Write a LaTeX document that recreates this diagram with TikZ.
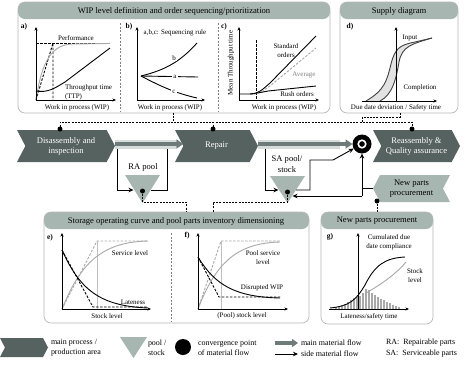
\documentclass[tikz,border=0pt]{standalone}
\usepackage{fontspec}
\setmainfont{Liberation Serif}
\usetikzlibrary{shapes.symbols,arrows.meta}
\definecolor{hdr}{HTML}{A8B6B2}
\definecolor{chev}{HTML}{56625F}
\definecolor{boxln}{HTML}{B8B8B8}
\definecolor{cgray}{HTML}{A8A8A8}
\definecolor{flowdk}{HTML}{6E7B78}
\definecolor{flowlt}{HTML}{D5DCDA}
\definecolor{dfill}{HTML}{E2E2E2}
\begin{document}
\begin{tikzpicture}[x=1bp,y=-1bp,
  every node/.style={inner sep=0bp, outer sep=0bp},
  smalltxt/.style={font=\fontsize{7}{9}\selectfont},
  infobox/.style={draw=boxln, line width=0.7bp, rounded corners=7bp, anchor=north west, fill=white,
     path picture={\fill[hdr] ([yshift=2bp]path picture bounding box.north west) rectangle ([yshift=-17bp]path picture bounding box.north east);}},
  boxtitle/.style={font=\fontsize{8.6}{10}\selectfont},
  procbox/.style={signal, signal to=east, signal from=west, signal pointer angle=125, fill=chev, text=white, minimum height=32bp, align=center, font=\fontsize{8.6}{10}\selectfont},
  nppbox/.style={signal, signal to=west, signal from=east, signal pointer angle=125, fill=hdr, text=black, minimum height=27bp, align=center, font=\fontsize{8.6}{10}\selectfont},
  dotnode/.style={circle, fill=black, minimum size=5bp},
  infoline/.style={draw=black, line width=0.8bp, dash pattern=on 2bp off 1.2bp},
  panelsep/.style={draw=gray, line width=0.6bp, dash pattern=on 2bp off 1.5bp},
  sideflow/.style={draw=black, line width=0.9bp, -{Stealth[length=5bp,width=4.5bp]}},
  mainflow/.style={draw=flowdk, line width=3.5bp, -{Triangle[length=7bp,width=9bp]}},
  bandline/.style={draw=flowlt, line width=9bp},
  axarr/.style={draw=black, line width=0.8bp, -{Stealth[length=3.5bp,width=3bp]}},
  lbl/.style={font=\fontsize{7.5}{8}\bfseries\selectfont},
  blk/.style={draw=black, line width=0.9bp},
  gcurve/.style={draw=cgray, line width=0.9bp},
  dsh/.style={dash pattern=on 2.5bp off 1.5bp},
  legtxt/.style={font=\fontsize{8}{10}\selectfont, anchor=west, align=left},
]
\fill[white] (0,0) rectangle (474,365);
\useasboundingbox (0,0) rectangle (474,365);

% ---------- info boxes ----------
\node[infobox, minimum width=312bp, minimum height=111bp] (wipbox) at (18,2) {};
\node[boxtitle] (wiptitle) at (174,11) {WIP level definition and order sequencing/prioritization};
\node[infobox, minimum width=118bp, minimum height=111bp] (supbox) at (340,2) {};
\node[boxtitle] (suptitle) at (399,11) {Supply diagram};
\node[infobox, minimum width=265bp, minimum height=111bp] (storbox) at (44,212) {};
\node[boxtitle] (stortitle) at (176,221) {Storage operating curve and pool parts inventory dimensioning};
\node[infobox, minimum width=112bp, minimum height=112bp] (nppinfo) at (321,212) {};
\node[boxtitle] (npptitle) at (377,221) {New parts procurement};

\draw[panelsep] (120,23) -- (120,112);
\draw[panelsep] (218,23) -- (218,112);
\draw[panelsep] (171,233) -- (171,322);

% ---------- panel a ----------
\node[lbl] (la) at (24,27) {a)};
\draw[blk, dsh] (36,43) -- (110,43);
\draw[blk, dsh] (36,100) -- (53,43) -- (53,100);
\draw[gcurve] (36,100) .. controls (42,60) and (52,45) .. (72,44) -- (110,43.5);
\draw[blk] (36,91) .. controls (48,93) and (55,88) .. (65,82) -- (110,48);
\draw[axarr] (36,100) -- (36,27);
\draw[axarr] (36,100) -- (116,100);
\node[smalltxt] (perf) at (76,38) {Performance};
\node[smalltxt, anchor=west, align=left] (ttp) at (65,92) {Throughput time\\(TTP)};
\node[smalltxt] (xa) at (77,108) {Work in process (WIP)};

% ---------- panel b ----------
\node[lbl] (lb) at (129,27) {b)};
\node[smalltxt] (seqr) at (175,33) {a,b,c: Sequencing rule};
\draw[blk] (141,76) -- (198,77);
\draw[blk] (141,76) .. controls (165,70) and (180,62) .. (197,43);
\draw[blk] (141,76) .. controls (160,86) and (175,93) .. (197,98);
\node[smalltxt, fill=white, inner sep=1bp] (ba) at (175,76.5) {a};
\node[smalltxt, fill=white, inner sep=1bp] (bb) at (174,58) {b};
\node[smalltxt, fill=white, inner sep=1bp] (bc) at (174,92) {c};
\draw[axarr] (137,100) -- (137,27);
\draw[axarr] (137,100) -- (205,100);
\node[smalltxt] (xb) at (170,108) {Work in process (WIP)};

% ---------- panel c ----------
\node[lbl] (lc) at (224,27) {c)};
\node[smalltxt, rotate=90] (yc) at (231,63) {Mean Throughput time};
\draw[blk, dsh] (256,40) -- (256,100);
\draw[blk] (239,94) -- (250,94) .. controls (258,94) and (262,90) .. (270,83) -- (316,36);
\draw[gcurve, dsh] (250,94) .. controls (258,94) .. (270,86) -- (316,48);
\draw[blk] (250,94) .. controls (258,93) .. (268,91) -- (316,86);
\draw[axarr] (239,100) -- (239,27);
\draw[axarr] (239,100) -- (319,100);
\node[smalltxt, align=center] (std) at (286,51) {Standard\\orders};
\node[smalltxt, text=gray] (avg) at (304,75) {Average};
\node[smalltxt] (rush) at (297,94) {Rush orders};
\node[smalltxt] (xc) at (284,108) {Work in process (WIP)};

% ---------- panel d ----------
\node[lbl] (ld) at (350,27) {d)};
\fill[dfill] (366,101) .. controls (385,90) and (387,80) .. (391,64) .. controls (395,48) and (400,45) .. (415,42) -- (432,38)
  .. controls (412,44) and (402,46) .. (399,62) .. controls (396,80) and (392,95) .. (380,101) -- cycle;
\draw[draw=black!75, line width=0.9bp] (366,101) .. controls (385,90) and (387,80) .. (391,64) .. controls (395,48) and (400,45) .. (415,42) -- (432,38);
\draw[draw=black!75, line width=0.9bp] (380,101) .. controls (392,95) and (396,80) .. (399,62) .. controls (402,46) and (412,44) .. (432,38);
\draw[axarr] (396,101) -- (396,27);
\draw[axarr] (362,101) -- (437,101);
\node[smalltxt] (inp) at (410,38) {Input};
\node[smalltxt] (compl) at (420,88) {Completion};
\node[smalltxt] (xd) at (396,108) {Due date deviation / Safety time};

% ---------- panel e ----------
\node[lbl] (le) at (50,238) {e)};
\draw[draw=black!25, line width=0.5bp] (97,241) -- (97,309);
\draw[gcurve, dsh] (62,309) -- (97,241) -- (148,241);
\draw[gcurve] (62,309) .. controls (80,265) and (100,242) .. (148,241);
\draw[blk] (62,250) .. controls (80,290) and (100,306) .. (148,308);
\draw[blk, dsh] (62,250) -- (93,307) -- (148,307);
\draw[axarr] (62,309) -- (62,233);
\draw[axarr] (62,309) -- (151,309);
\node[smalltxt] (svc) at (130,253) {Service level};
\node[smalltxt] (late) at (133,302) {Lateness};
\node[smalltxt] (xe) at (107,316) {Stock level};

% ---------- panel f ----------
\node[lbl] (lf) at (187,236) {f)};
\draw[draw=black!25, line width=0.5bp] (221,241) -- (221,309);
\draw[gcurve, dsh] (198,309) -- (221,241) -- (280,241);
\draw[gcurve] (198,309) .. controls (215,265) and (235,243) .. (280,242);
\draw[blk] (198,257) .. controls (215,285) and (235,297) .. (280,298);
\draw[blk, dsh] (198,257) -- (219,297) -- (280,297);
\draw[axarr] (198,309) -- (198,233);
\draw[axarr] (198,309) -- (288,309);
\node[smalltxt, align=center] (psvc) at (263,258) {Pool service\\level};
\node[smalltxt] (dwip) at (262,288) {Disrupted WIP};
\node[smalltxt] (xf) at (242,316) {(Pool) stock level};

% ---------- panel g ----------
\node[lbl] (lg) at (330,237) {g)};
\foreach \xx/\hh in {336/2,339/3,342/4,345/5,348/7,351/9,354/11,357/12,360/13,363/16,366/20,369/19,372/16,375/14,378/12,381/10,384/9,387/7,390/6,393/4,396/3,399/2}
  \fill[cgray] (\xx-1,309) rectangle (\xx+1,309-\hh);
\draw[gcurve] (366,293) .. controls (380,285) and (395,275) .. (406,262);
\draw[blk] (330,308) .. controls (350,306) and (356,300) .. (365,285) .. controls (375,265) and (385,258) .. (405,257);
\draw[axarr] (358,309) -- (358,233);
\draw[axarr] (329,309) -- (409,309);
\node[smalltxt, align=center] (cdc) at (389,242) {Cumulated due\\date compliance};
\node[smalltxt, align=center] (stk) at (415,276) {Stock\\level};
\node[smalltxt] (xg) at (369,317) {Lateness/safety time};

% ---------- process chain ----------
\node[procbox, minimum width=98bp] (dis) at (66,146) {Disassembly and\\inspection};
\node[procbox, minimum width=83bp] (rep) at (216.5,146) {Repair};
\node[procbox, minimum width=87bp] (reas) at (416.5,146) {Reassembly \&\\Quality assurance};
\node[nppbox, minimum width=77bp] (npp) at (411.5,188.5) {New parts\\procurement};
\node[circle, fill=black, minimum size=19bp] (conv) at (362,144) {};
\draw[white, line width=1.6bp] (conv.center) circle (3.8bp);

% pools
\fill[hdr] (125,175) -- (160,175) -- (142.5,203) -- cycle;
\fill[hdr] (270,176) -- (305,176) -- (287.5,203) -- cycle;
\node[font=\fontsize{8.6}{10}\selectfont] (ratxt) at (143,167) {RA pool};
\node[font=\fontsize{8.6}{11}\selectfont, align=center] (satxt) at (287,164) {SA pool/\\stock};

% main material flow
\draw[bandline] (dis.east |- conv) -- (176,144);
\draw[bandline] (rep.east |- conv) -- (340,144);
\draw[mainflow] (dis.east |- conv) -- (rep.west |- conv);
\draw[mainflow] (rep.east |- conv) -- (conv.west);

% side material flows
\draw[sideflow] (117,148.5) -- (117,190) -- (133.5,190);
\draw[draw=black, line width=0.9bp] (151,190) -- (167,190) -- (167,148.5);
\draw[sideflow] (265,148.5) -- (265,190) -- (278.5,190);
\draw[sideflow] (296,190) -- (310,190) -- (310,160) -- (333,160) -- (conv);
\draw[draw=black, line width=0.9bp] (npp.west) -- (362,188.5);
\draw[sideflow] (362,196) -- (conv.south);
\draw[sideflow] (362,196) -- (292.5,196);

% information links
\node[dotnode] (d1) at (60,129) {};
\node[dotnode] (d2) at (213,129) {};
\node[dotnode] (d3) at (412,129) {};
\node[dotnode] (dra) at (142.5,191) {};
\node[dotnode] (dsa) at (287.5,192) {};
\node[dotnode] (dnpp) at (377,201) {};
\coordinate (wipout) at (173,113);
\coordinate (supout) at (400,113);
\coordinate (storin1) at (186,212);
\coordinate (storin2) at (213,212);
\coordinate (nppin) at (377,212);
\draw[infoline] (wipout) -- (173,122);
\draw[infoline] (d1) |- (412,122) -- (d3);
\draw[infoline] (d2) -- (213,122);
\draw[infoline] (supout) |- (362,117) -- (362,122);
\draw[infoline] (dra) -- (142.5,202) -| (storin1);
\draw[infoline] (dsa) -- (287.5,202) -| (storin2);
\draw[infoline] (dnpp) -- (nppin);

% ---------- legend ----------
\node[procbox, minimum width=48bp, minimum height=19bp] (legproc) at (24,347.5) {};
\node[legtxt] (legproctxt) at (51,348) {main process /\\production area};
\fill[hdr] (120,337) -- (147,337) -- (133.5,358) -- cycle;
\node[legtxt] (legpooltxt) at (148,348) {pool /\\stock};
\node[circle, fill=black, minimum size=16bp] (legconv) at (183,347) {};
\node[legtxt] (legconvtxt) at (198,348) {convergence point\\of material flow};
\coordinate (lm1) at (275,343);
\coordinate (lm2) at (298,343);
\draw[draw=flowdk, line width=3.5bp, -{Triangle[length=6bp,width=8bp]}] (lm1) -- (lm2);
\node[legtxt] (legmain) at (301,343) {main material flow};
\coordinate (ls1) at (275,354);
\coordinate (ls2) at (298,354);
\draw[sideflow] (ls1) -- (ls2);
\node[legtxt] (legside) at (301,354) {side material flow};
\node[legtxt] (legra) at (386,343) {RA:\ \ Repairable parts};
\node[legtxt] (legsa) at (386,354) {SA:\ \ Serviceable parts};
\end{tikzpicture}
\end{document}
